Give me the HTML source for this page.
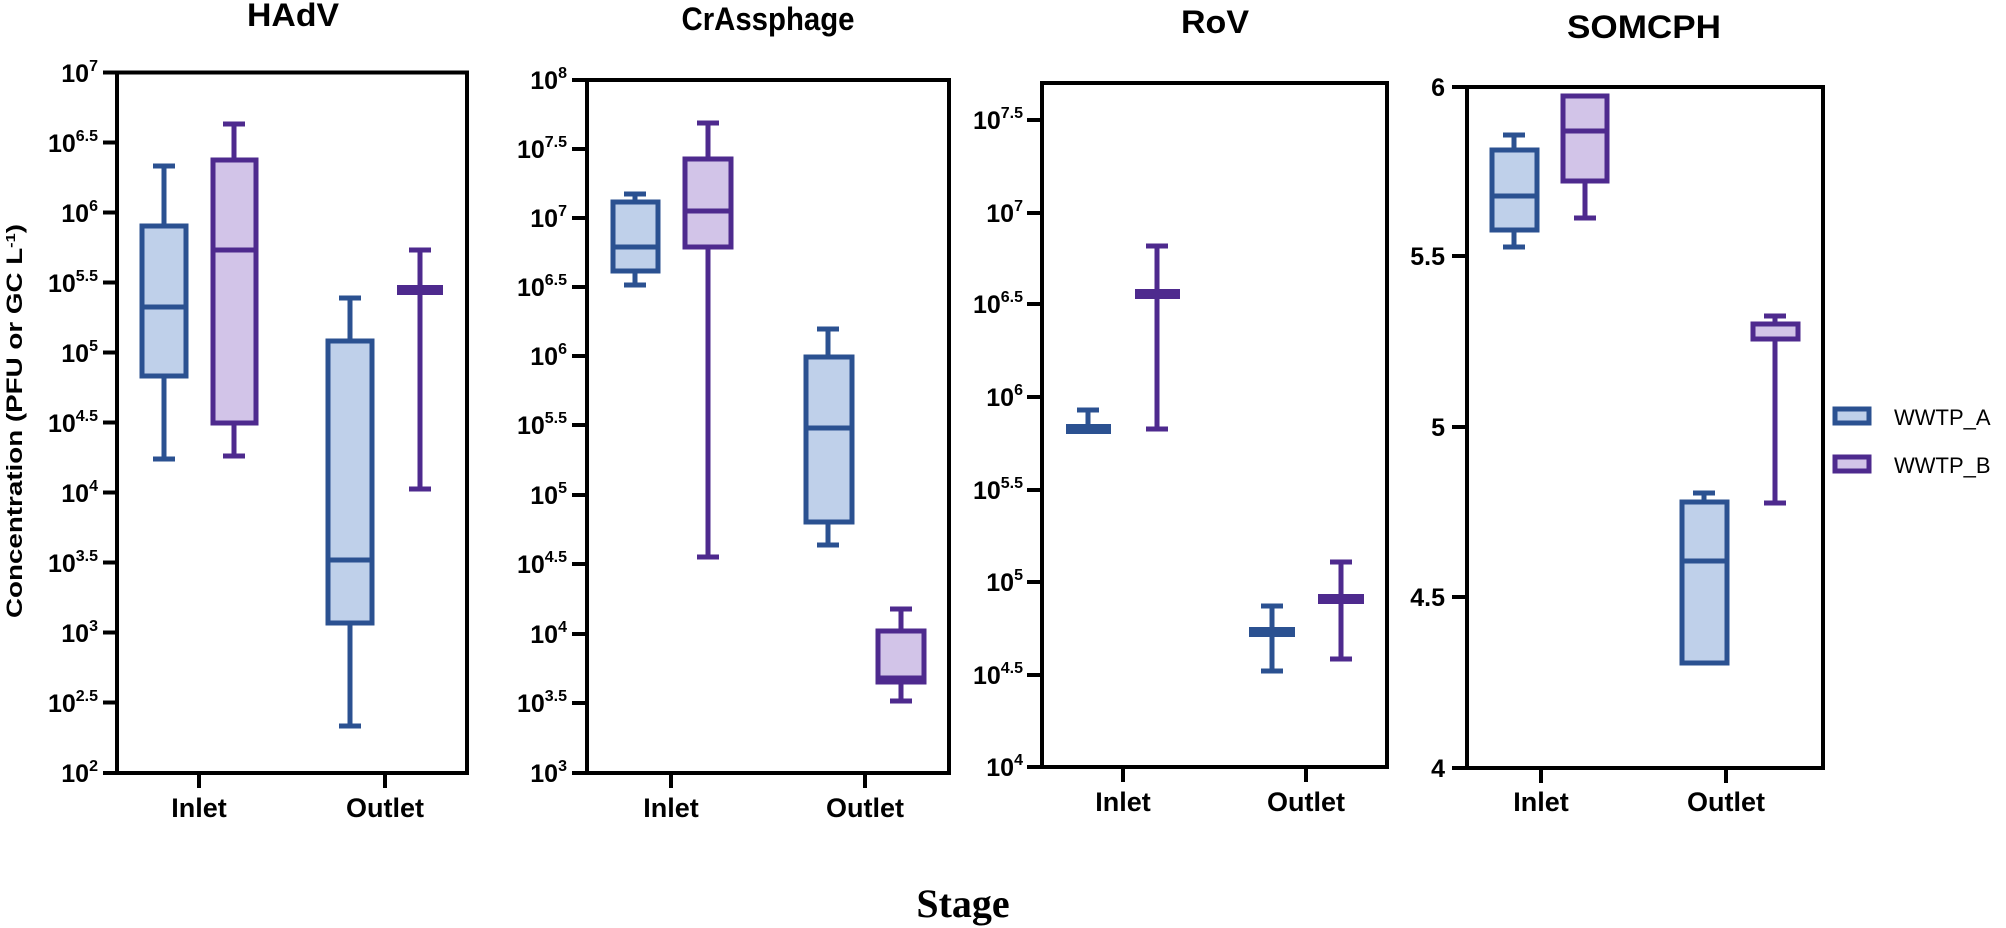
<!DOCTYPE html>
<html><head><meta charset="utf-8"><style>
html,body{margin:0;padding:0;background:#fff;}
svg{display:block;}
text{font-family:"Liberation Sans",Arial,sans-serif;font-weight:bold;fill:#000;}
.t{font-size:25px;}
.s{font-size:16px;}
.x{font-size:27px;text-anchor:middle;}
.ti{font-size:32px;text-anchor:middle;}
.fr{fill:none;stroke:#000;stroke-width:4;}
.tk{stroke:#000;stroke-width:4;}
.a{stroke:#2B5191;stroke-width:5;fill:#BFD0EA;}
.al{stroke:#2B5191;stroke-width:5;fill:none;}
.b{stroke:#4E2A8E;stroke-width:5;fill:#D2C4E8;}
.bl{stroke:#4E2A8E;stroke-width:5;fill:none;}
</style></head><body>
<svg width="2006" height="928" viewBox="0 0 2006 928" xmlns="http://www.w3.org/2000/svg">
<!-- Titles -->
<text class="ti" x="293" y="26" textLength="92" lengthAdjust="spacingAndGlyphs">HAdV</text>
<text class="ti" x="768" y="30" textLength="173" lengthAdjust="spacingAndGlyphs">CrAssphage</text>
<text class="ti" x="1215" y="33" textLength="68" lengthAdjust="spacingAndGlyphs">RoV</text>
<text class="ti" x="1644" y="38" textLength="154" lengthAdjust="spacingAndGlyphs">SOMCPH</text>
<!-- Y title -->
<text transform="translate(22,421) rotate(-90)" text-anchor="middle" style="font-size:22px" textLength="394" lengthAdjust="spacingAndGlyphs">Concentration (PFU or GC L<tspan baseline-shift="super" style="font-size:13px">-1</tspan>)</text>
<!-- Stage -->
<text x="963" y="917" text-anchor="middle" style="font-family:'Liberation Serif',serif;font-size:40px;font-weight:bold">Stage</text>

<!-- ===== Panel 1 HAdV ===== -->
<rect class="fr" x="117" y="72.5" width="350" height="700.5"/>
<g class="tk">
<line x1="103" x2="117" y1="72.5" y2="72.5"/><line x1="103" x2="117" y1="142.5" y2="142.5"/><line x1="103" x2="117" y1="212.5" y2="212.5"/><line x1="103" x2="117" y1="282.5" y2="282.5"/><line x1="103" x2="117" y1="352.5" y2="352.5"/><line x1="103" x2="117" y1="422.5" y2="422.5"/><line x1="103" x2="117" y1="492.5" y2="492.5"/><line x1="103" x2="117" y1="562.5" y2="562.5"/><line x1="103" x2="117" y1="632.5" y2="632.5"/><line x1="103" x2="117" y1="702.5" y2="702.5"/><line x1="103" x2="117" y1="773" y2="773"/>
<line x1="199" x2="199" y1="773" y2="788"/><line x1="385" x2="385" y1="773" y2="788"/>
</g>
<g class="t" text-anchor="end">
<text x="98" y="82">10<tspan class="s" dy="-11">7</tspan></text>
<text x="98" y="152">10<tspan class="s" dy="-11">6.5</tspan></text>
<text x="98" y="222">10<tspan class="s" dy="-11">6</tspan></text>
<text x="98" y="292">10<tspan class="s" dy="-11">5.5</tspan></text>
<text x="98" y="362">10<tspan class="s" dy="-11">5</tspan></text>
<text x="98" y="432">10<tspan class="s" dy="-11">4.5</tspan></text>
<text x="98" y="502">10<tspan class="s" dy="-11">4</tspan></text>
<text x="98" y="572">10<tspan class="s" dy="-11">3.5</tspan></text>
<text x="98" y="642">10<tspan class="s" dy="-11">3</tspan></text>
<text x="98" y="712">10<tspan class="s" dy="-11">2.5</tspan></text>
<text x="98" y="782">10<tspan class="s" dy="-11">2</tspan></text>
</g>
<text class="x" x="199" y="817">Inlet</text><text class="x" x="385" y="817">Outlet</text>
<!-- A inlet -->
<g class="al"><line x1="164" x2="164" y1="166" y2="459"/><line x1="153" x2="175" y1="166" y2="166"/><line x1="153" x2="175" y1="459" y2="459"/></g>
<rect class="a" x="142" y="226" width="44" height="150"/><line class="al" x1="142" x2="186" y1="307" y2="307"/>
<!-- B inlet -->
<g class="bl"><line x1="234" x2="234" y1="124" y2="456"/><line x1="223" x2="245" y1="124" y2="124"/><line x1="223" x2="245" y1="456" y2="456"/></g>
<rect class="b" x="213" y="160" width="43" height="263"/><line class="bl" x1="213" x2="256" y1="250" y2="250"/>
<!-- A outlet -->
<g class="al"><line x1="350" x2="350" y1="298" y2="726"/><line x1="339" x2="361" y1="298" y2="298"/><line x1="339" x2="361" y1="726" y2="726"/></g>
<rect class="a" x="328" y="341" width="44" height="282"/><line class="al" x1="328" x2="372" y1="560" y2="560"/>
<!-- B outlet -->
<g class="bl"><line x1="420" x2="420" y1="250" y2="489"/><line x1="409" x2="431" y1="250" y2="250"/><line x1="409" x2="431" y1="489" y2="489"/></g>
<rect x="397" y="285" width="46" height="10" fill="#4E2A8E"/>

<!-- ===== Panel 2 CrAssphage ===== -->
<rect class="fr" x="587" y="80" width="362" height="693"/>
<g class="tk">
<line x1="572" x2="587" y1="80" y2="80"/><line x1="572" x2="587" y1="149" y2="149"/><line x1="572" x2="587" y1="218" y2="218"/><line x1="572" x2="587" y1="287" y2="287"/><line x1="572" x2="587" y1="356" y2="356"/><line x1="572" x2="587" y1="425" y2="425"/><line x1="572" x2="587" y1="495" y2="495"/><line x1="572" x2="587" y1="564" y2="564"/><line x1="572" x2="587" y1="634" y2="634"/><line x1="572" x2="587" y1="703" y2="703"/><line x1="572" x2="587" y1="773" y2="773"/>
<line x1="671" x2="671" y1="773" y2="788"/><line x1="865" x2="865" y1="773" y2="788"/>
</g>
<g class="t" text-anchor="end">
<text x="567" y="89">10<tspan class="s" dy="-11">8</tspan></text>
<text x="567" y="158">10<tspan class="s" dy="-11">7.5</tspan></text>
<text x="567" y="227">10<tspan class="s" dy="-11">7</tspan></text>
<text x="567" y="296">10<tspan class="s" dy="-11">6.5</tspan></text>
<text x="567" y="365">10<tspan class="s" dy="-11">6</tspan></text>
<text x="567" y="434">10<tspan class="s" dy="-11">5.5</tspan></text>
<text x="567" y="504">10<tspan class="s" dy="-11">5</tspan></text>
<text x="567" y="573">10<tspan class="s" dy="-11">4.5</tspan></text>
<text x="567" y="643">10<tspan class="s" dy="-11">4</tspan></text>
<text x="567" y="712">10<tspan class="s" dy="-11">3.5</tspan></text>
<text x="567" y="782">10<tspan class="s" dy="-11">3</tspan></text>
</g>
<text class="x" x="671" y="817">Inlet</text><text class="x" x="865" y="817">Outlet</text>
<g class="al"><line x1="635" x2="635" y1="194" y2="285"/><line x1="624" x2="646" y1="194" y2="194"/><line x1="624" x2="646" y1="285" y2="285"/></g>
<rect class="a" x="613" y="202" width="45" height="69"/><line class="al" x1="613" x2="658" y1="247" y2="247"/>
<g class="bl"><line x1="708" x2="708" y1="123" y2="557"/><line x1="697" x2="719" y1="123" y2="123"/><line x1="697" x2="719" y1="557" y2="557"/></g>
<rect class="b" x="685" y="159" width="46" height="88"/><line class="bl" x1="685" x2="731" y1="211" y2="211"/>
<g class="al"><line x1="828" x2="828" y1="329" y2="545"/><line x1="817" x2="839" y1="329" y2="329"/><line x1="817" x2="839" y1="545" y2="545"/></g>
<rect class="a" x="806" y="357" width="46" height="165"/><line class="al" x1="806" x2="852" y1="428" y2="428"/>
<g class="bl"><line x1="901" x2="901" y1="609" y2="701"/><line x1="890" x2="912" y1="609" y2="609"/><line x1="890" x2="912" y1="701" y2="701"/></g>
<rect class="b" x="878" y="631" width="46" height="51"/><line class="bl" x1="878" x2="924" y1="678" y2="678"/>

<!-- ===== Panel 3 RoV ===== -->
<rect class="fr" x="1042" y="83" width="345" height="684"/>
<g class="tk">
<line x1="1027" x2="1042" y1="120" y2="120"/><line x1="1027" x2="1042" y1="213" y2="213"/><line x1="1027" x2="1042" y1="304" y2="304"/><line x1="1027" x2="1042" y1="397" y2="397"/><line x1="1027" x2="1042" y1="490" y2="490"/><line x1="1027" x2="1042" y1="582" y2="582"/><line x1="1027" x2="1042" y1="675" y2="675"/><line x1="1027" x2="1042" y1="767" y2="767"/>
<line x1="1123" x2="1123" y1="767" y2="782"/><line x1="1306" x2="1306" y1="767" y2="782"/>
</g>
<g class="t" text-anchor="end">
<text x="1023" y="129">10<tspan class="s" dy="-11">7.5</tspan></text>
<text x="1023" y="222">10<tspan class="s" dy="-11">7</tspan></text>
<text x="1023" y="313">10<tspan class="s" dy="-11">6.5</tspan></text>
<text x="1023" y="406">10<tspan class="s" dy="-11">6</tspan></text>
<text x="1023" y="499">10<tspan class="s" dy="-11">5.5</tspan></text>
<text x="1023" y="591">10<tspan class="s" dy="-11">5</tspan></text>
<text x="1023" y="684">10<tspan class="s" dy="-11">4.5</tspan></text>
<text x="1023" y="776">10<tspan class="s" dy="-11">4</tspan></text>
</g>
<text class="x" x="1123" y="811">Inlet</text><text class="x" x="1306" y="811">Outlet</text>
<g class="al"><line x1="1088" x2="1088" y1="410" y2="429"/><line x1="1077" x2="1099" y1="410" y2="410"/></g>
<rect x="1066" y="424" width="45" height="10" fill="#2B5191"/>
<g class="bl"><line x1="1157" x2="1157" y1="246" y2="429"/><line x1="1146" x2="1168" y1="246" y2="246"/><line x1="1146" x2="1168" y1="429" y2="429"/></g>
<rect x="1135" y="289" width="45" height="10" fill="#4E2A8E"/>
<g class="al"><line x1="1272" x2="1272" y1="606" y2="671"/><line x1="1261" x2="1283" y1="606" y2="606"/><line x1="1261" x2="1283" y1="671" y2="671"/></g>
<rect x="1249" y="627" width="46" height="10" fill="#2B5191"/>
<g class="bl"><line x1="1341" x2="1341" y1="562" y2="659"/><line x1="1330" x2="1352" y1="562" y2="562"/><line x1="1330" x2="1352" y1="659" y2="659"/></g>
<rect x="1318" y="594" width="46" height="10" fill="#4E2A8E"/>

<!-- ===== Panel 4 SOMCPH ===== -->
<rect class="fr" x="1467" y="87" width="356" height="681"/>
<g class="tk">
<line x1="1452" x2="1467" y1="87" y2="87"/><line x1="1452" x2="1467" y1="256" y2="256"/><line x1="1452" x2="1467" y1="427" y2="427"/><line x1="1452" x2="1467" y1="597" y2="597"/><line x1="1452" x2="1467" y1="768" y2="768"/>
<line x1="1541" x2="1541" y1="768" y2="783"/><line x1="1726" x2="1726" y1="768" y2="783"/>
</g>
<g class="t" text-anchor="end">
<text x="1445" y="96">6</text><text x="1445" y="265">5.5</text><text x="1445" y="436">5</text><text x="1445" y="606">4.5</text><text x="1445" y="777">4</text>
</g>
<text class="x" x="1541" y="811">Inlet</text><text class="x" x="1726" y="811">Outlet</text>
<g class="al"><line x1="1514" x2="1514" y1="135" y2="247"/><line x1="1503" x2="1525" y1="135" y2="135"/><line x1="1503" x2="1525" y1="247" y2="247"/></g>
<rect class="a" x="1492" y="150" width="45" height="80"/><line class="al" x1="1492" x2="1537" y1="196" y2="196"/>
<g class="bl"><line x1="1585" x2="1585" y1="181" y2="218"/><line x1="1574" x2="1596" y1="218" y2="218"/></g>
<rect class="b" x="1563" y="96" width="44" height="85"/><line class="bl" x1="1563" x2="1607" y1="131" y2="131"/>
<g class="al"><line x1="1704" x2="1704" y1="493" y2="502"/><line x1="1693" x2="1715" y1="493" y2="493"/></g>
<rect class="a" x="1682" y="502" width="45" height="161"/><line class="al" x1="1682" x2="1727" y1="561" y2="561"/>
<g class="bl"><line x1="1775" x2="1775" y1="316" y2="503"/><line x1="1764" x2="1786" y1="316" y2="316"/><line x1="1764" x2="1786" y1="503" y2="503"/></g>
<rect class="b" x="1753" y="324" width="45" height="15"/><line stroke="#D2C4E8" stroke-width="3" x1="1757" x2="1794" y1="332" y2="332"/>

<!-- Legend -->
<rect x="1835" y="409" width="34" height="14" fill="#BFD0EA" stroke="#2B5191" stroke-width="5"/>
<rect x="1835" y="457" width="34" height="14" fill="#D2C4E8" stroke="#4E2A8E" stroke-width="5"/>
<text x="1894" y="425" style="font-weight:normal;font-size:22px">WWTP_A</text>
<text x="1894" y="473" style="font-weight:normal;font-size:22px">WWTP_B</text>
</svg>
</body></html>
